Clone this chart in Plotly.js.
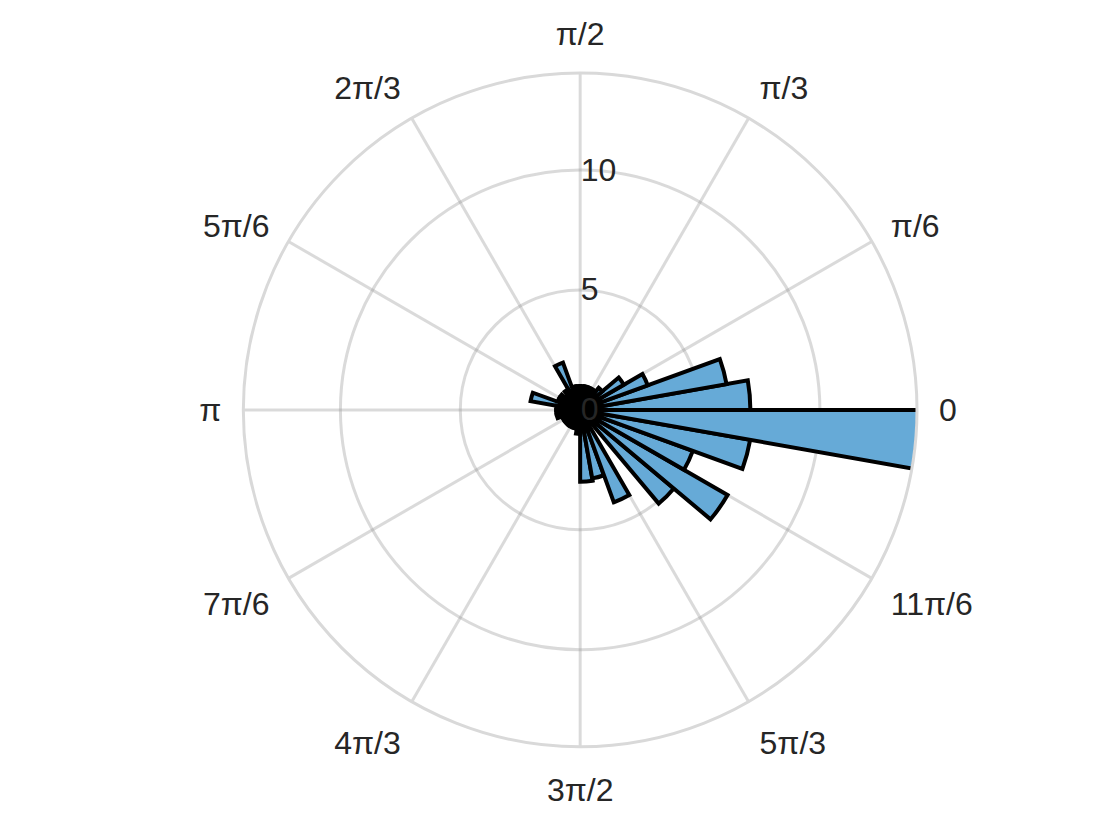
<!DOCTYPE html>
<html><head><meta charset="utf-8">
<script src="https://cdn.plot.ly/plotly-3.0.1.min.js"></script>
<style>body{margin:0;background:#fff}</style></head>
<body><div id="chart" style="width:1120px;height:840px"></div>
<script>
// bin centers (degrees) and counts
const binCenters = [5,15,25,35,45,55,65,75,85,95,105,115,125,135,145,155,165,175,185,195,205,215,225,235,245,255,265,275,285,295,305,315,325,335,345,355];
const counts =     [7.1,6.2,3.0,2.1,1.2,1,1,1,1,1,1,2.1,1,0.8,1,1,2.1,1,1,1,0.8,0.8,0.8,0.8,0.8,0.8,1,3.0,2.9,4.1,0,5.1,7.1,5.0,7.2,14.1];
const angTickVals = [0,30,60,90,120,150,180,210,240,270,300,330];
const angTickText = ['0','π/6','π/3','π/2','2π/3','5π/6','π','7π/6','4π/3','3π/2','5π/3','11π/6'];
const radTickVals = [0,5,10];
const radTickText = ['0','5','10'];

Plotly.newPlot('chart', [{
  type:'barpolar', r:counts, theta:binCenters, width:10,
  marker:{color:'rgb(102,170,215)', line:{color:'black', width:4}},
  hoverinfo:'skip'
}], {
  width:1120, height:840, margin:{l:0,r:0,t:0,b:0},
  paper_bgcolor:'white', showlegend:false,
  font:{family:'Liberation Sans, Arial, sans-serif', size:32, color:'#262626'},
  polar:{
    domain:{x:[0.217,0.819], y:[0.111,0.913]},
    bgcolor:'white', bargap:0,
    angularaxis:{direction:'counterclockwise', rotation:0, tickvals:angTickVals, ticktext:angTickText,
      showline:true, linecolor:'#d9d9d9', linewidth:3, gridcolor:'rgba(150,150,150,0.35)', gridwidth:3,
      ticks:'outside', ticklen:14, tickcolor:'rgba(0,0,0,0)', tickfont:{size:32,color:'#262626'}, layer:'above traces'},
    radialaxis:{range:[0,14.05], angle:90, tickangle:90, tickvals:radTickVals, ticktext:radTickText, showline:false,
      gridcolor:'rgba(150,150,150,0.35)', gridwidth:3, ticks:'', tickfont:{size:32,color:'#262626'}, layer:'above traces'}
  }
}, {displayModeBar:false});
</script></body></html>
